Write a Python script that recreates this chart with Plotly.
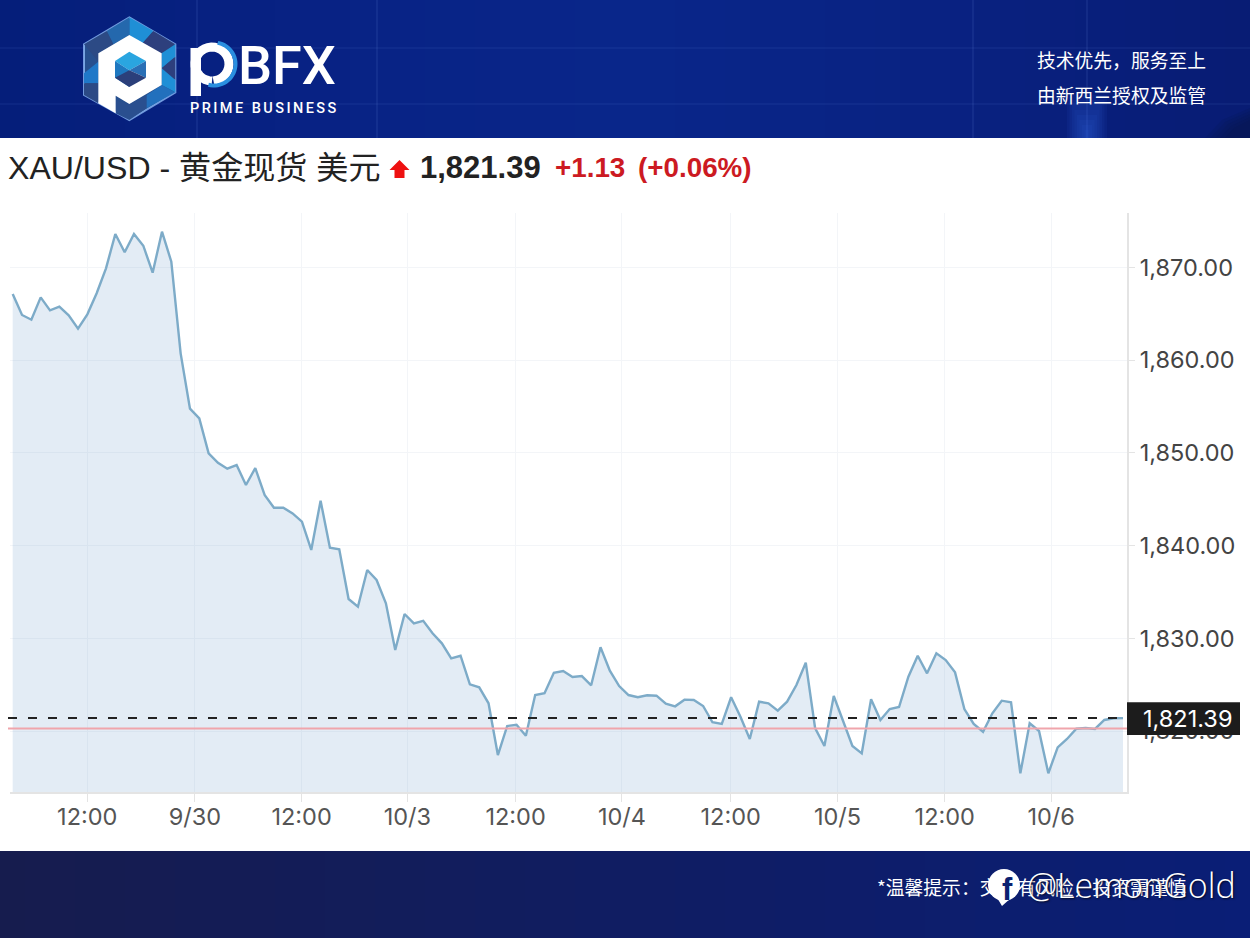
import math
import plotly.graph_objects as go

W, H = 1250, 938

# ---------- data ----------
prices = [
    1867.14, 1864.88, 1864.37, 1866.78, 1865.38, 1865.77, 1864.84, 1863.40, 1864.95, 1867.22,
    1869.91, 1873.61, 1871.64, 1873.61, 1872.35, 1869.44, 1873.86, 1870.63, 1860.74, 1854.77,
    1853.73, 1849.96, 1848.94, 1848.30, 1848.69, 1846.54, 1848.37, 1845.46, 1844.09, 1844.09,
    1843.48, 1842.58, 1839.53, 1844.84, 1839.77, 1839.60, 1834.24, 1833.41, 1837.37, 1836.29,
    1833.78, 1828.74, 1832.62, 1831.62, 1831.89, 1830.54, 1829.46, 1827.84, 1828.12, 1825.04,
    1824.71, 1822.99, 1817.41, 1820.54, 1820.68, 1819.49, 1823.88, 1824.07, 1826.29, 1826.47,
    1825.83, 1825.93, 1824.93, 1829.03, 1826.50, 1824.85, 1823.88, 1823.64, 1823.85, 1823.81,
    1822.94, 1822.66, 1823.38, 1823.34, 1822.70, 1820.94, 1820.76, 1823.64, 1821.54, 1819.14,
    1823.16, 1822.99, 1822.19, 1823.16, 1824.96, 1827.37, 1820.32, 1818.38, 1823.78, 1821.00,
    1818.38, 1817.59, 1823.42, 1821.19, 1822.37, 1822.59, 1825.86, 1828.12, 1826.22, 1828.38,
    1827.66, 1826.33, 1822.37, 1820.76, 1819.92, 1821.91, 1823.27, 1823.10, 1815.44, 1820.83,
    1820.00, 1815.44, 1818.24, 1819.14, 1820.25, 1820.32, 1820.22, 1821.19, 1821.37, 1821.39,
]
sample_index = list(range(len(prices)))
x_tick_index = [7.99, 19.53, 30.96, 42.3, 53.9, 65.3, 76.95, 88.4, 99.9, 111.3]
x_tick_labels = ["12:00", "9/30", "12:00", "10/3", "12:00", "10/4", "12:00", "10/5", "12:00", "10/6"]
y_tick_values = [1820, 1830, 1840, 1850, 1860, 1870]
last_price = 1821.39
previous_close = 1820.26

TITLE = "XAU/USD - 黄金现货 美元"
LAST_LABEL = "1,821.39"
CHANGE_LABEL = "+1.13"
PCT_LABEL = "(+0.06%)"

LATIN = "Liberation Sans, Noto Sans CJK SC, sans-serif"
CJK = "Noto Sans CJK SC, sans-serif"
TICK = "Inter, sans-serif"


def fx(x):
    return x / W


def fy(y):
    return 1 - y / H


def poly(points, fill, line=None, lw=0, layer="above", scale=None):
    if scale:
        ox, oy, s = scale
        points = [(ox + a * s, oy + b * s) for a, b in points]
    path = "M" + " L".join(f"{fx(a):.5f},{fy(b):.5f}" for a, b in points) + " Z"
    return dict(type="path", path=path, xref="paper", yref="paper", fillcolor=fill,
                line=dict(color=line or fill, width=lw), layer=layer)


def rect(x0, y0, x1, y1, fill, layer="below"):
    return dict(type="rect", xref="paper", yref="paper", x0=fx(x0), x1=fx(x1), y0=fy(y1), y1=fy(y0),
                fillcolor=fill, line=dict(width=0), layer=layer)


def circle(cx, cy, r, fill="rgba(0,0,0,0)", line=None, lw=0):
    return dict(type="circle", xref="paper", yref="paper", x0=fx(cx - r), x1=fx(cx + r),
                y0=fy(cy + r), y1=fy(cy - r), fillcolor=fill,
                line=dict(color=line or fill, width=lw), layer="above")


def arc(cx, cy, r, a0, a1, color, lw):
    pts = []
    for k in range(31):
        a = math.radians(a0 + (a1 - a0) * k / 30)
        pts.append((cx + r * math.cos(a), cy + r * math.sin(a)))
    path = "M" + " L".join(f"{fx(a):.5f},{fy(b):.5f}" for a, b in pts)
    return dict(type="path", path=path, xref="paper", yref="paper",
                line=dict(color=color, width=lw), layer="above")


def text(x, y, s, size, color, family, anchor="left", weight=None, shadow=None):
    font = dict(size=size, color=color, family=family)
    if weight:
        font["weight"] = weight
    if shadow:
        font["shadow"] = shadow
    return dict(text=s, xref="paper", yref="paper", x=fx(x), y=fy(y), xanchor=anchor, yanchor="middle",
                showarrow=False, font=font, borderpad=0, borderwidth=0)


def mix(c0, c1, t):
    return "rgb(" + ",".join(str(round(a + (b - a) * t)) for a, b in zip(c0, c1)) + ")"


shapes = []

# header band
HDR = [(5, 30, 122), (8, 34, 132), (9, 38, 138), (9, 34, 130), (8, 28, 116)]
for k in range(50):
    t = k / 49 * (len(HDR) - 1)
    i = min(int(t), len(HDR) - 2)
    shapes.append(rect(k * 25, 0, (k + 1) * 25 + 1, 138, mix(HDR[i], HDR[i + 1], t - i)))
for vx in (197, 377, 973, 1087):
    shapes.append(rect(vx - 1, 0, vx + 1, 138, "rgba(120,160,240,0.10)"))
for hy in (48, 104):
    shapes.append(rect(0, hy - 1, 1250, hy + 1, "rgba(120,160,240,0.07)"))
for g in range(8):
    shapes.append(rect(1067 + g * 2.5, 95 + g * 5, 1107 - g * 2.5, 138, "rgba(50,120,240,0.07)"))
for g in range(5):
    shapes.append(poly([(1205 + g * 5, 138), (1222 + g * 3, 120 + g * 2), (1250, 108 + g * 3), (1250, 138)],
                       "rgba(8,20,70,0.14)", layer="below"))

# footer band
for k in range(50):
    shapes.append(rect(k * 25, 851, (k + 1) * 25 + 1, 938, mix((22, 28, 78), (10, 30, 118), k / 49)))

# logo hexagon (coordinates in zoom units, mapped to the page)
S = (70, 5, 1 / 3)
hexagon = [(178, 37), (316, 118), (316, 262), (178, 345), (42, 270), (42, 118)]
shapes.append(poly(hexagon, "#27508f", line="rgba(150,195,255,0.75)", lw=2, scale=S))
facets = [
    ([(178, 37), (250, 78), (215, 118), (178, 90)], "#1f8fd6"),
    ([(110, 78), (178, 37), (178, 90), (130, 118)], "#2468ad"),
    ([(42, 118), (110, 78), (130, 118), (85, 145), (85, 170)], "#2c4a85"),
    ([(42, 205), (85, 170), (85, 235), (42, 235)], "#1f78c8"),
    ([(42, 235), (85, 235), (85, 295), (42, 270)], "#2c4a85"),
    ([(250, 78), (316, 118), (275, 145), (215, 118)], "#2d3f7d"),
    ([(275, 145), (316, 118), (316, 155), (275, 190)], "#1f8fd6"),
    ([(275, 190), (316, 155), (316, 225)], "#2d3f7d"),
    ([(275, 190), (316, 225), (316, 262), (275, 240)], "#1f8fd6"),
    ([(137, 285), (178, 297), (230, 270), (230, 310), (178, 345), (137, 325)], "#2a4f8f"),
    ([(230, 270), (275, 240), (316, 262), (230, 310)], "#2270bd"),
]
for pts, col in facets:
    shapes.append(poly(pts, col, scale=S))
shapes.append(poly([(178, 90), (275, 145), (275, 240), (178, 297), (137, 272), (137, 325), (85, 295), (85, 145)],
                   "#ffffff", scale=S))
shapes.append(poly([(178, 140), (228, 168), (178, 196), (135, 168)], "#2aa5e0", scale=S))
shapes.append(poly([(135, 168), (178, 196), (178, 246), (135, 218)], "#1e78c0", scale=S))
shapes.append(poly([(228, 168), (228, 218), (178, 196)], "#2a6fb5", scale=S))
shapes.append(poly([(135, 218), (178, 196), (228, 218), (178, 246)], "#2b3f7a", scale=S))

# logo letter p
shapes.append(rect(190.5, 48, 201, 96, "#ffffff", layer="above"))
shapes.append(arc(212, 64, 17, 90, 445, "#ffffff", 9))
shapes.append(arc(214, 64, 21.5, -80, 105, "#2a8fe0", 4))

# value arrow
shapes.append(poly([(399.5, 160), (409.5, 170), (404.5, 170), (404.5, 178), (394.5, 178), (394.5, 170), (389.5, 170)],
                   "#ee1111"))

# reference lines
PLOT_L, PLOT_R = 10, 1127
shapes.append(dict(type="line", xref="paper", yref="y", x0=fx(8), x1=fx(PLOT_R), y0=previous_close, y1=previous_close,
                   line=dict(color="#f0a5ac", width=2), layer="above"))
shapes.append(dict(type="line", xref="paper", yref="y", x0=fx(8), x1=fx(PLOT_R), y0=last_price, y1=last_price,
                   line=dict(color="#222222", width=2, dash="9px,11px"), layer="above"))

# last price box
shapes.append(rect(1127, 702.3, 1240, 735, "#1c1c1c", layer="above"))

# facebook mark
shapes.append(circle(1004, 885, 16, fill="#ffffff"))
shapes.append(poly([(996, 896), (1011, 898), (1002, 906)], "#ffffff"))

annotations = [
    text(1205.5, 59.5, "技术优先，服务至上", 18.8, "#ffffff", CJK, anchor="right"),
    text(1205.5, 94.5, "由新西兰授权及监管", 18.8, "#ffffff", CJK, anchor="right"),
    text(237.5, 65, "BFX", 54, "#ffffff", "Roboto, sans-serif", weight=500),
    text(190, 108, '<span style="letter-spacing:2.45px">PRIME BUSINESS</span>', 14.5, "#ffffff",
         "Roboto, sans-serif", weight=500),
    text(8, 168, TITLE, 32.1, "#222222", LATIN),
    text(419.5, 168, LAST_LABEL, 31, "#222222", LATIN, weight=700),
    text(555, 167, CHANGE_LABEL, 27.8, "#cc1a22", LATIN, weight=700),
    text(638, 167, PCT_LABEL, 27.8, "#cc1a22", LATIN, weight=700),
    text(877, 886, "*温馨提示：交易有风险，投资需谨慎", 18.8, "#ffffff", CJK),
    text(1007, 889, "f", 31, "#0b2170", LATIN, anchor="center", weight=700),
    text(1236, 885, "@LemonGold", 34, "#ffffff", "Open Sans, sans-serif", anchor="right", weight=300,
         shadow="1px 1px 2px rgba(0,0,0,0.7)"),
    dict(text=LAST_LABEL, xref="paper", yref="y", x=fx(1187), y=last_price, xanchor="center", yanchor="middle",
         showarrow=False, borderpad=0, font=dict(size=23.5, color="#ffffff", family=TICK)),
]

fig = go.Figure(go.Scatter(
    x=sample_index, y=prices, mode="lines", fill="tozeroy",
    fillcolor="rgba(125,165,210,0.21)", line=dict(color="#7dabc8", width=2.4), hoverinfo="skip",
))

GRID = "#f3f5f8"
fig.update_layout(
    width=W, height=H, margin=dict(l=0, r=0, t=0, b=0), showlegend=False,
    paper_bgcolor="#ffffff", plot_bgcolor="#ffffff",
    shapes=shapes, annotations=annotations,
    xaxis=dict(domain=[fx(PLOT_L), fx(PLOT_R)], range=[-0.289, 119.43], tickmode="array",
               tickvals=x_tick_index, ticktext=x_tick_labels, showgrid=True, gridcolor=GRID, gridwidth=1,
               zeroline=False, showline=True, linecolor="#e4e4e4", linewidth=2, ticks="outside", ticklen=8,
               tickcolor="#e4e4e4", tickwidth=1, ticklabelstandoff=-5,
               tickfont=dict(family=TICK, size=23.5, color="#555555")),
    yaxis=dict(domain=[fy(792), fy(213)], range=[1813.42, 1875.88], side="right", tickmode="array",
               tickvals=y_tick_values, tickformat=",.2f", showgrid=True, gridcolor=GRID, gridwidth=1,
               zeroline=False, showline=True, linecolor="#e4e4e4", linewidth=2, ticks="outside", ticklen=6,
               tickcolor="#e4e4e4", tickwidth=1, tickfont=dict(family=TICK, size=23.5, color="#444444")),
)

fig.write_html("out.html", config=dict(displayModeBar=False),
               post_script="document.body.style.margin='0';document.body.style.overflow='hidden';")
